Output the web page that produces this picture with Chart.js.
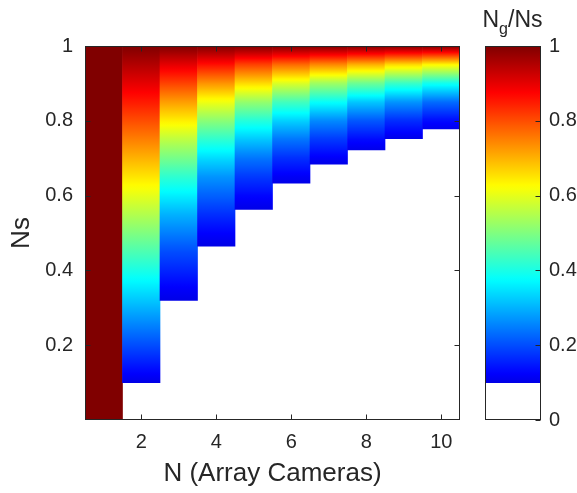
<!DOCTYPE html>
<html>
<head>
<meta charset="utf-8">
<script src="https://cdn.jsdelivr.net/npm/chart.js@4/dist/chart.umd.min.js"></script>
<style>
  html, body { margin: 0; padding: 0; background: #fff; }
  #wrap { position: relative; width: 577px; height: 493px; }
  #main { position: absolute; left: 0; top: 0; }
  #bar { position: absolute; left: 470px; top: 0; }
</style>
</head>
<body>
<div id="wrap">
  <canvas id="main" width="470" height="493"></canvas>
  <canvas id="bar" width="107" height="493"></canvas>
</div>
<script>
// number of array cameras (x categories)
const nCameras = [1, 2, 3, 4, 5, 6, 7, 8, 9, 10];

const nsLevels = [0.05, 0.10, 0.15, 0.20, 0.25, 0.30, 0.35, 0.40, 0.45, 0.50,
                  0.55, 0.60, 0.65, 0.70, 0.75, 0.80, 0.85, 0.90, 0.95, 1.00];

// Ng/Ns per column, one row per camera count
const ngRatio = [
  [1, 1, 1, 1, 1, 1, 1, 1, 1, 1, 1, 1, 1, 1, 1, 1, 1, 1, 1, 1],
  [0.05, 0.10, 0.15, 0.20, 0.25, 0.30, 0.35, 0.40, 0.45, 0.50, 0.55, 0.60, 0.65, 0.70, 0.75, 0.80, 0.85, 0.90, 0.95, 1],
  [0.00, 0.01, 0.02, 0.04, 0.06, 0.09, 0.12, 0.16, 0.20, 0.25, 0.30, 0.36, 0.42, 0.49, 0.56, 0.64, 0.72, 0.81, 0.90, 1],
  [0.00, 0.00, 0.00, 0.01, 0.02, 0.03, 0.04, 0.06, 0.09, 0.125, 0.17, 0.22, 0.27, 0.34, 0.42, 0.51, 0.61, 0.73, 0.86, 1],
  [0.00, 0.00, 0.00, 0.00, 0.00, 0.01, 0.015, 0.026, 0.041, 0.063, 0.092, 0.13, 0.18, 0.24, 0.32, 0.41, 0.52, 0.66, 0.81, 1],
  [0.00, 0.00, 0.00, 0.00, 0.00, 0.00, 0.005, 0.01, 0.018, 0.031, 0.05, 0.078, 0.116, 0.17, 0.24, 0.33, 0.44, 0.59, 0.77, 1],
  [0.00, 0.00, 0.00, 0.00, 0.00, 0.00, 0.00, 0.004, 0.008, 0.016, 0.028, 0.047, 0.075, 0.118, 0.18, 0.26, 0.38, 0.53, 0.74, 1],
  [0.00, 0.00, 0.00, 0.00, 0.00, 0.00, 0.00, 0.00, 0.004, 0.008, 0.015, 0.028, 0.049, 0.082, 0.134, 0.21, 0.32, 0.48, 0.70, 1],
  [0.00, 0.00, 0.00, 0.00, 0.00, 0.00, 0.00, 0.00, 0.00, 0.004, 0.008, 0.017, 0.032, 0.058, 0.10, 0.168, 0.27, 0.43, 0.66, 1],
  [0.00, 0.00, 0.00, 0.00, 0.00, 0.00, 0.00, 0.00, 0.00, 0.00, 0.005, 0.01, 0.021, 0.040, 0.075, 0.134, 0.23, 0.39, 0.63, 1]
];

// lowest Ns shown in each column (white below)
const lowerEdge = [0, 0.10, 0.32, 0.465, 0.563, 0.633, 0.684, 0.722, 0.752, 0.778];

// colour limits and tick labels
const colorMin = 0.1;
const xTicks = [2, 4, 6, 8, 10];
const yTicks = [0.2, 0.4, 0.6, 0.8, 1];
const barTicks = [0, 0.2, 0.4, 0.6, 0.8, 1];

const FONT = "'Liberation Sans', Arial, Helvetica, sans-serif";
const INK = '#262626';

function clamp01(v) { return Math.max(0, Math.min(1, v)); }

function jet(v) {
  const r = clamp01(1.5 - Math.abs(4 * v - 3));
  const g = clamp01(1.5 - Math.abs(4 * v - 2));
  const b = clamp01(1.5 - Math.abs(4 * v - 1));
  return `rgb(${Math.round(r * 255)},${Math.round(g * 255)},${Math.round(b * 255)})`;
}

function ratioAt(row, ns) {
  if (ns <= nsLevels[0]) return row[0];
  for (let k = 1; k < nsLevels.length; k++) {
    if (ns <= nsLevels[k]) {
      const t = (ns - nsLevels[k - 1]) / (nsLevels[k] - nsLevels[k - 1]);
      return row[k - 1] + t * (row[k] - row[k - 1]);
    }
  }
  return row[row.length - 1];
}

// inside tick marks and a box round the plot area
const frameTicks = {
  id: 'frameTicks',
  afterDraw(chart, args, opts) {
    const { ctx, chartArea: a } = chart;
    const L = Math.round(a.left) + 0.5, R = Math.round(a.right) - 0.5;
    const T = Math.round(a.top) + 0.5, B = Math.round(a.bottom) - 0.5;
    const len = 5;
    ctx.save();
    ctx.strokeStyle = INK;
    ctx.lineWidth = 1;
    ctx.beginPath();
    (opts.x || []).forEach(side => {
      const sc = chart.scales.x;
      sc.ticks.forEach((t, i) => {
        const px = Math.round(sc.getPixelForTick(i)) + 0.5;
        if (side === 'bottom') { ctx.moveTo(px, B); ctx.lineTo(px, B - len); }
        else { ctx.moveTo(px, T); ctx.lineTo(px, T + len); }
      });
    });
    (opts.y || []).forEach(side => {
      const sc = chart.scales.y;
      sc.ticks.forEach((t, i) => {
        const py = Math.round(sc.getPixelForTick(i)) + 0.5;
        if (side === 'left') { ctx.moveTo(L, py); ctx.lineTo(L + len, py); }
        else { ctx.moveTo(R, py); ctx.lineTo(R - len, py); }
      });
    });
    ctx.stroke();
    ctx.strokeRect(L, T, R - L, B - T);
    ctx.restore();
  }
};

function columnFill(c) {
  const chart = c.chart;
  if (!chart.chartArea) return 'transparent';
  const i = c.dataIndex;
  const y = chart.scales.y;
  const y0 = y.getPixelForValue(lowerEdge[i]);
  const y1 = y.getPixelForValue(1);
  const grad = chart.ctx.createLinearGradient(0, y0, 0, y1);
  const steps = 80;
  for (let k = 0; k <= steps; k++) {
    const s = k / steps;
    const ns = lowerEdge[i] + s * (1 - lowerEdge[i]);
    let v = ratioAt(ngRatio[i], ns);
    v = Math.max(colorMin, Math.min(1, v));
    grad.addColorStop(s, jet(v));
  }
  return grad;
}

const plainNumber = v => String(Math.round(v * 10) / 10);

new Chart(document.getElementById('main'), {
  type: 'bar',
  data: {
    labels: nCameras.map(String),
    datasets: [{
      data: lowerEdge.map(b => [b, 1]),
      backgroundColor: columnFill,
      borderWidth: 0,
      barPercentage: 1,
      categoryPercentage: 1
    }]
  },
  options: {
    responsive: false,
    animation: false,
    devicePixelRatio: 1,
    layout: { padding: { left: 0, right: 10, top: 46, bottom: 0 } },
    plugins: {
      legend: { display: false },
      tooltip: { enabled: false },
      frameTicks: { x: ['bottom', 'top'], y: ['left', 'right'] }
    },
    scales: {
      x: {
        grid: { display: false, drawTicks: false },
        border: { display: false },
        afterBuildTicks: sc => {
          sc.ticks = sc.ticks.filter(t => xTicks.includes(nCameras[t.value]));
        },
        afterFit: sc => { sc.height = 73; },
        ticks: { color: INK, font: { family: FONT, size: 20 }, padding: 10, maxRotation: 0, autoSkip: false },
        title: { display: true, text: 'N (Array Cameras)', color: INK, font: { family: FONT, size: 26 }, padding: { bottom: 4 } }
      },
      y: {
        min: 0, max: 1,
        grid: { display: false, drawTicks: false },
        border: { display: false },
        afterBuildTicks: sc => { sc.ticks = yTicks.map(v => ({ value: v })); },
        afterFit: sc => { sc.width = 85; },
        ticks: { color: INK, font: { family: FONT, size: 20 }, padding: 12, callback: plainNumber },
        title: { display: true, text: 'Ns', color: INK, font: { family: FONT, size: 26 }, padding: { top: 6 } }
      }
    }
  },
  plugins: [frameTicks]
});

// colour bar
const barTitle = {
  id: 'barTitle',
  afterDraw(chart) {
    const ctx = chart.ctx;
    ctx.save();
    ctx.fillStyle = INK;
    ctx.textBaseline = 'alphabetic';
    const big = `23px ${FONT}`, small = `16px ${FONT}`;
    ctx.font = big; const wN = ctx.measureText('N').width, wRest = ctx.measureText('/Ns').width;
    ctx.font = small; const wg = ctx.measureText('g').width;
    let x = 42.5 - (wN + wg + wRest) / 2;
    ctx.font = big; ctx.fillText('N', x, 27); x += wN;
    ctx.font = small; ctx.fillText('g', x, 34); x += wg;
    ctx.font = big; ctx.fillText('/Ns', x, 27);
    ctx.restore();
  }
};

new Chart(document.getElementById('bar'), {
  type: 'bar',
  data: {
    labels: [''],
    datasets: [{
      data: [[colorMin, 1]],
      backgroundColor: c => {
        const chart = c.chart;
        if (!chart.chartArea) return 'transparent';
        const y = chart.scales.y;
        const y0 = y.getPixelForValue(colorMin), y1 = y.getPixelForValue(1);
        const grad = chart.ctx.createLinearGradient(0, y0, 0, y1);
        for (let k = 0; k <= 80; k++) {
          const s = k / 80;
          grad.addColorStop(s, jet(colorMin + s * (1 - colorMin)));
        }
        return grad;
      },
      borderWidth: 0,
      barPercentage: 1,
      categoryPercentage: 1
    }]
  },
  options: {
    responsive: false,
    animation: false,
    devicePixelRatio: 1,
    layout: { padding: { left: 15, right: 0, top: 46, bottom: 73 } },
    plugins: {
      legend: { display: false },
      tooltip: { enabled: false },
      frameTicks: { y: ['right'] }
    },
    scales: {
      x: { display: false },
      y: {
        position: 'right',
        min: 0, max: 1,
        grid: { display: false, drawTicks: false },
        border: { display: false },
        afterBuildTicks: sc => { sc.ticks = barTicks.map(v => ({ value: v })); },
        afterFit: sc => { sc.width = 36; },
        ticks: { color: INK, font: { family: FONT, size: 20 }, padding: 8, callback: plainNumber }
      }
    }
  },
  plugins: [frameTicks, barTitle]
});
</script>
</body>
</html>
